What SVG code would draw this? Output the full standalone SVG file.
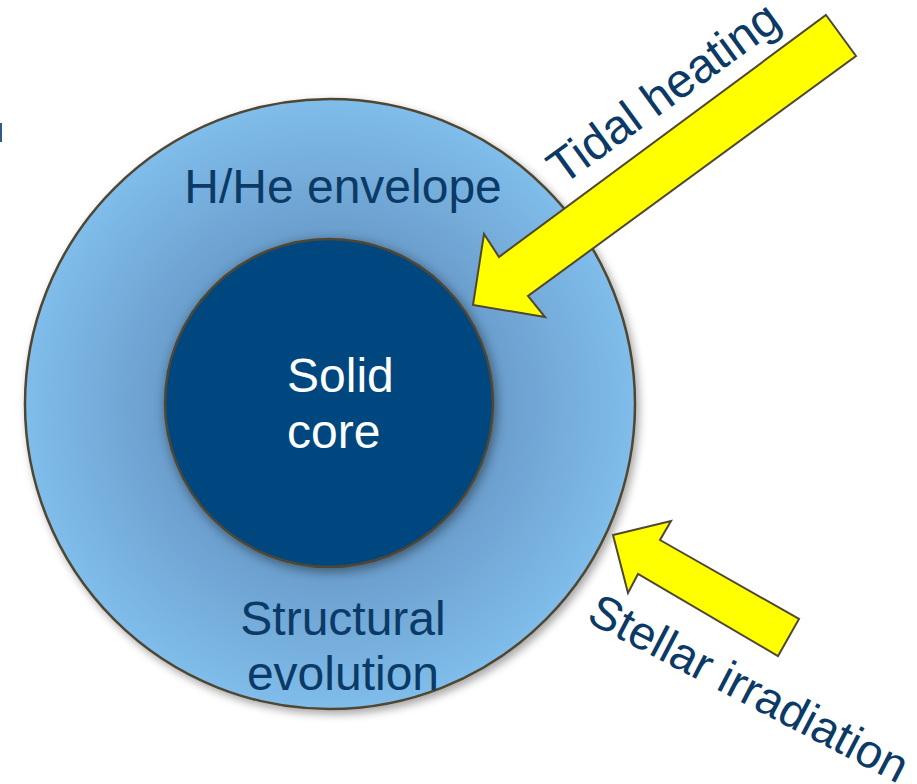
<svg xmlns="http://www.w3.org/2000/svg" width="917" height="784" viewBox="0 0 917 784">
<defs>
  <radialGradient id="envGrad" cx="330" cy="404" r="305" gradientUnits="userSpaceOnUse">
    <stop offset="0" stop-color="#5a8cbd"/>
    <stop offset="0.54" stop-color="#6a9dcc"/>
    <stop offset="1" stop-color="#80bdea"/>
  </radialGradient>
  <filter id="outerShadow" x="-20%" y="-20%" width="140%" height="140%">
    <feDropShadow dx="3" dy="4" stdDeviation="4" flood-color="#000" flood-opacity="0.35"/>
  </filter>
  <filter id="coreShadow" x="-30%" y="-30%" width="160%" height="160%">
    <feDropShadow dx="2" dy="3" stdDeviation="6" flood-color="#000" flood-opacity="0.45"/>
  </filter>
</defs>
<style>
  .ring { stroke: #4f4733; stroke-width: 2.5; }
  .label { font-family: "Liberation Sans", Arial, sans-serif; font-size: 48px; fill: #0b3a66; }
  .light { fill: #ffffff; }
  .arrow { fill: #ffff00; stroke: #4f4733; stroke-width: 2; stroke-linejoin: miter; }
</style>
<rect width="917" height="784" fill="#ffffff"/>
<rect x="0" y="123" width="2" height="19" fill="#2d5c88"/>

<g id="envelope">
  <circle class="ring" cx="330" cy="404" r="305" fill="url(#envGrad)" filter="url(#outerShadow)"/>
  <text class="label" x="343" y="203" text-anchor="middle">H/He envelope</text>
</g>

<g id="core">
  <circle class="ring" cx="329" cy="403" r="164" fill="#01467f" filter="url(#coreShadow)"/>
  <text class="label light" x="287" y="392">Solid</text>
  <text class="label light" x="287" y="448">core</text>
</g>

<g id="structural-evolution">
  <text class="label" x="343" y="635" text-anchor="middle">Structural</text>
  <text class="label" x="343" y="690" text-anchor="middle">evolution</text>
</g>

<g id="connectors">
  <polygon id="tidal-arrow" class="arrow" points="826,15 856,56 528,296 545,317 473,305 484,234 499,257"/>
  <polygon id="stellar-arrow" class="arrow" points="613,535 671,521 660,540 799,619 778,656 638,574 628,593"/>
</g>

<g id="tidal-heating">
  <text class="label" transform="translate(562.5,186) rotate(-36)">Tidal heating</text>
</g>

<g id="stellar-irradiation">
  <text class="label" style="font-size:47px" transform="translate(585,621) rotate(27.5)">Stellar irradiation</text>
</g>
</svg>
